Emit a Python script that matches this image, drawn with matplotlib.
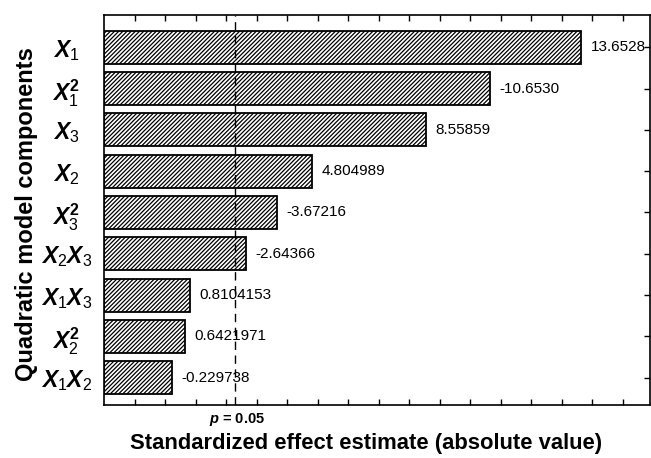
import numpy as np
import matplotlib
matplotlib.use('Agg')
import matplotlib.pyplot as plt

plt.rcParams['font.family'] = ['Liberation Sans', 'DejaVu Sans']
plt.rcParams['mathtext.fontset'] = 'custom'
plt.rcParams['mathtext.it'] = 'Liberation Sans:italic:bold'
plt.rcParams['mathtext.rm'] = 'Liberation Sans'
plt.rcParams['mathtext.bf'] = 'Liberation Sans:bold'
plt.rcParams['hatch.linewidth'] = 0.9

# model terms, top to bottom
terms = [r'$X_1$', r'$X_1^{\mathbf{2}}$', r'$X_3$', r'$X_2$', r'$X_3^{\mathbf{2}}$',
         r'$X_2X_3$', r'$X_1X_3$', r'$X_2^{\mathbf{2}}$', r'$X_1X_2$']
effects = [13.6528, 10.6530, 8.55859, 4.804989, 3.67216, 2.64366,
           0.8104153, 0.6421971, 0.229738]
effect_text = ['13.6528', '-10.6530', '8.55859', '4.804989', '-3.67216',
               '-2.64366', '0.8104153', '0.6421971', '-0.229738']
p_value = 2.306
x_min, x_max = -2, 15.9

fig = plt.figure(figsize=(6.51, 4.58), dpi=100)
ax = fig.add_axes([104 / 651, 1 - 405 / 458, 546 / 651, 390 / 458])

y = np.arange(len(effects))
widths = np.array(effects) - x_min
ax.barh(y, widths, left=x_min, height=0.8, color='white', edgecolor='black',
        hatch='////////', linewidth=1.3)

for yi, val, txt in zip(y, effects, effect_text):
    ax.annotate(txt, (val, yi), xytext=(7, 0), textcoords='offset points',
                va='center', ha='left', fontsize=11)

ax.axvline(p_value, color='black', linestyle=(0, (6, 4)), linewidth=1.0)

ax.set_xlim(x_min, x_max)
ax.set_ylim(8.66, -0.78)
ax.set_xticks(np.arange(-1, 16))
ax.tick_params(axis='x', direction='in', top=True, bottom=True, length=4,
               width=1.0, labelbottom=False)
ax.set_yticks(y)
ax.set_yticklabels(terms, fontsize=16.5)
for lbl in ax.get_yticklabels():
    lbl.set_horizontalalignment('center')
ax.tick_params(axis='y', left=False, right=True, direction='in', length=4,
               width=1.0, pad=27)
for s in ax.spines.values():
    s.set_linewidth(1.2)

ax.set_ylabel('Quadratic model components', fontsize=17, fontweight='bold')
ax.yaxis.set_label_coords(-0.12, 0.49)

fig.text(237 / 651, 1 - 420 / 458, r'$p$ = 0.05', ha='center', va='center',
         fontsize=10.5, fontweight='bold')
fig.text(366 / 651, 1 - 443 / 458, 'Standardized effect estimate (absolute value)',
         ha='center', va='center', fontsize=15.8, fontweight='bold')

fig.savefig('out.png', dpi=100)
